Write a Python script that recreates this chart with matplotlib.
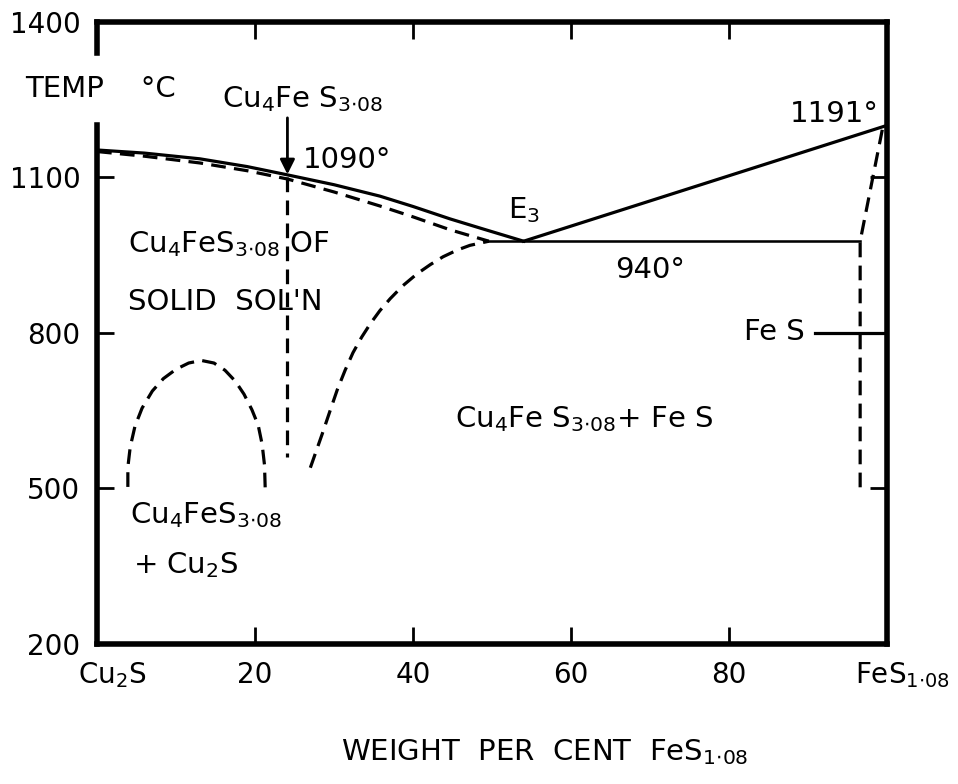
import matplotlib.pyplot as plt
from matplotlib.transforms import ScaledTranslation

plt.rcParams['font.family'] = 'DejaVu Sans'
plt.rcParams['mathtext.default'] = 'regular'

# liquidus (solid lines)
liq_x = [0, 6, 13, 19, 24.1, 30, 35.8, 40, 44.7, 49, 54]
liq_t = [1153, 1147, 1136, 1121, 1105, 1086, 1064, 1044, 1020, 1000, 977]
liq2_x = [54, 99.7]
liq2_t = [977, 1199]
# eutectic horizontal
eut_x = [49.6, 96.6]
eut_t = [977, 977]
# dashed boundaries
sol_x = [0, 6, 13, 19, 24.1, 30, 35.8, 40, 44.7, 49.6]
sol_t = [1150, 1141, 1128, 1113, 1097, 1072, 1045, 1024, 999, 977]
low_x = [27.0, 28.5, 29.5, 30.4, 31.4, 32.4, 33.5, 34.6, 35.8, 37.1,
         38.7, 40.5, 42.2, 43.8, 45.6, 47.2, 49.6]
low_t = [540, 605, 650, 690, 728, 762, 792, 818, 843, 866,
         891, 914, 932, 947, 960, 969, 977]
dome_x = [3.9, 3.9, 4.2, 4.8, 5.7, 7.0, 8.4, 10.0, 11.6, 13.2, 14.8, 16.2,
          17.5, 18.6, 19.6, 20.4, 20.9, 21.2, 21.3]
dome_t = [503, 541, 580, 620, 655, 688, 712, 730, 742, 747, 742, 728,
          707, 682, 652, 622, 585, 545, 493]
comp_x = [24.1, 24.1]
comp_t = [1100, 560]
fes_x = [99.4, 96.6, 96.6]
fes_t = [1192, 977, 501]

xticks = [0, 20, 40, 60, 80, 100]
xlabels = [r'Cu$_2$S', '20', '40', '60', '80', r'FeS$_{1{\cdot}08}$']
yticks = [200, 500, 800, 1100, 1400]

fig = plt.figure(figsize=(9.58, 7.84), dpi=100)
ax = fig.add_axes([0.1013, 0.1786, 0.8246, 0.7934])

lw = 2.3
dash = (4.6, 2.6)
ax.plot(liq_x, liq_t, color='black', lw=lw)
ax.plot(liq2_x, liq2_t, color='black', lw=lw)
ax.plot(eut_x, eut_t, color='black', lw=lw * 0.8)
for xs, ts in [(sol_x, sol_t), (low_x, low_t), (dome_x, dome_t),
               (comp_x, comp_t), (fes_x, fes_t)]:
    ax.plot(xs, ts, color='black', lw=lw, dashes=dash)

ax.set_xlim(0, 100)
ax.set_ylim(200, 1400)
ax.set_xticks(xticks)
ax.set_xticklabels(xlabels)
ax.set_yticks(yticks)
ax.tick_params(direction='in', length=12, width=2, labelsize=20,
               top=True, right=True)
ax.tick_params(axis='x', pad=12)
ax.tick_params(axis='y', pad=12)

shift = ScaledTranslation(0.15, 0, fig.dpi_scale_trans)
for i in (0, -1):
    lbl = ax.get_xticklabels()[i]
    lbl.set_transform(lbl.get_transform() + shift)

for s in ['top', 'right', 'bottom']:
    ax.spines[s].set_linewidth(4)
ax.spines['left'].set_visible(False)
ax.plot([0, 0], [1340, 1400], color='black', lw=4, clip_on=False,
        solid_capstyle='projecting')
ax.plot([0, 0], [200, 1201], color='black', lw=4, clip_on=False,
        solid_capstyle='projecting')

ax.set_xlabel(r'WEIGHT  PER  CENT  FeS$_{1{\cdot}08}$', fontsize=21)
ax.xaxis.set_label_coords(0.567, -0.15)

fs = 21
ax.text(-9.1, 1270, 'TEMP    \u00b0C', fontsize=fs, va='center', ha='left')
ax.annotate('', xy=(24.1, 1106), xytext=(24.1, 1215),
            arrowprops=dict(arrowstyle='-|>', color='black', lw=2,
                            mutation_scale=22, shrinkA=0, shrinkB=0))
ax.text(15.8, 1236, r'Cu$_4$Fe S$_{3{\cdot}08}$', fontsize=fs, va='baseline')
ax.text(26.1, 1118, '1090\u00b0', fontsize=fs, va='baseline')
ax.text(52.0, 1022, r'E$_3$', fontsize=fs, va='baseline')
ax.text(98.9, 1207, '1191\u00b0', fontsize=fs, va='baseline', ha='right')
ax.text(65.6, 906, '940\u00b0', fontsize=fs, va='baseline')
ax.text(3.9, 956, r'Cu$_4$FeS$_{3{\cdot}08}$ OF', fontsize=fs, va='baseline')
ax.text(3.9, 844, "SOLID  SOL'N", fontsize=fs, va='baseline')
ax.text(89.6, 802, 'Fe S', fontsize=fs, va='center', ha='right')
ax.plot([90.9, 100], [800, 800], color='black', lw=lw)
ax.text(45.3, 619, r'Cu$_4$Fe S$_{3{\cdot}08}$+ Fe S', fontsize=fs,
        va='baseline')
ax.text(4.2, 433, r'Cu$_4$FeS$_{3{\cdot}08}$', fontsize=fs, va='baseline')
ax.text(4.6, 337, r'+ Cu$_2$S', fontsize=fs, va='baseline')

fig.savefig('out.png', dpi=100)
